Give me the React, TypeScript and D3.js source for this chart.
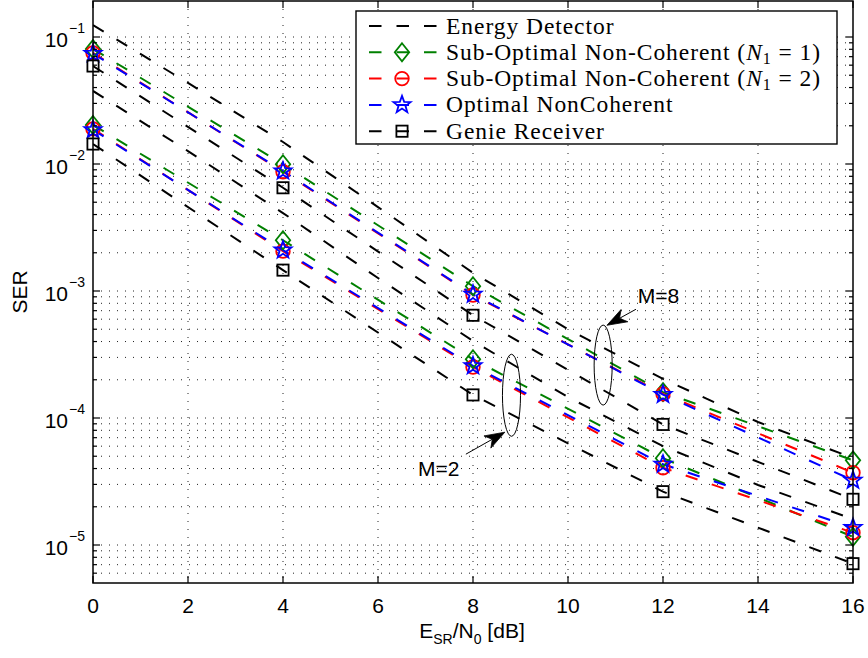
import React from 'react';
import * as d3 from 'd3';

// ---------- data ----------
const snrMarkers = [0, 4, 8, 12, 16];
const snrEnergy = [0, 2, 4, 6, 8, 10, 12, 14, 16];

const energyM8 = [0.124, 0.0435, 0.0149, 0.00458, 0.00139, 5.0e-4, 2.03e-4, 9.3e-5, 4.84e-5];
const energyM2 = [0.0376, 0.01265, 0.00411, 0.001265, 4.04e-4, 1.46e-4, 6.0e-5, 2.97e-5, 1.6e-5];

const subOpt1M8 = [0.0805, 0.00995, 0.00109, 1.6e-4, 4.64e-5];
const subOpt2M8 = [0.075, 0.0087, 9.3e-4, 1.55e-4, 3.71e-5];
const optimalM8 = [0.074, 0.0088, 9.4e-4, 1.53e-4, 3.23e-5];
const genieM8 = [0.0591, 0.0065, 6.44e-4, 8.9e-5, 2.29e-5];

const subOpt1M2 = [0.0203, 0.00251, 2.9e-4, 4.82e-5, 1.16e-5];
const subOpt2M2 = [0.0189, 0.00206, 2.52e-4, 4.06e-5, 1.25e-5];
const optimalM2 = [0.0186, 0.0021, 2.57e-4, 4.32e-5, 1.37e-5];
const genieM2 = [0.01436, 0.00146, 1.52e-4, 2.63e-5, 7.13e-6];

const xTicks = [0, 2, 4, 6, 8, 10, 12, 14, 16];
const yTickExps = [-1, -2, -3, -4, -5];

const legendLabels = [
  'Energy Detector',
  'Sub-Optimal Non-Coherent',
  'Sub-Optimal Non-Coherent',
  'Optimal NonCoherent',
  'Genie Receiver',
];
const legendN1 = [null, '1', '2', null, null];

// annotations in data units: [dB, SER]
const annLabels = ['M=8', 'M=2'];
const annText = [[11.47, 8.0e-4], [6.84, 3.48e-5]];
const annTail = [[11.43, 7.18e-4], [7.85, 5.19e-5]];
const annTip = [[10.82, 5.37e-4], [8.67, 7.73e-5]];
const annEllipseCenter = [[10.74, 2.61e-4], [8.81, 1.51e-4]];
const annEllipseR = [[0.19, 0.315], [0.19, 0.323]]; // [dB, decades]

// ---------- layout ----------
const W = 868;
const H = 658;
const left = 93;
const right = 853;
const top = 1;
const bottom = 583;

const x = d3.scaleLinear().domain([0, 16]).range([left, right]);
const y = d3.scaleLog().domain([1e-5, 1e-1]).range([545, 37]);

const GREEN = '#008000';
const RED = '#ff0000';
const BLUE = '#0000ff';
const BLACK = '#000000';
const DASH = '12.5,15';

type Marker = 'none' | 'diamond' | 'circle' | 'star' | 'square';

const series: { xs: number[]; ys: number[]; color: string; marker: Marker }[] = [
  { xs: snrEnergy, ys: energyM8, color: BLACK, marker: 'none' },
  { xs: snrEnergy, ys: energyM2, color: BLACK, marker: 'none' },
  { xs: snrMarkers, ys: subOpt1M8, color: GREEN, marker: 'diamond' },
  { xs: snrMarkers, ys: subOpt1M2, color: GREEN, marker: 'diamond' },
  { xs: snrMarkers, ys: subOpt2M8, color: RED, marker: 'circle' },
  { xs: snrMarkers, ys: subOpt2M2, color: RED, marker: 'circle' },
  { xs: snrMarkers, ys: optimalM8, color: BLUE, marker: 'star' },
  { xs: snrMarkers, ys: optimalM2, color: BLUE, marker: 'star' },
  { xs: snrMarkers, ys: genieM8, color: BLACK, marker: 'square' },
  { xs: snrMarkers, ys: genieM2, color: BLACK, marker: 'square' },
];

const legendStyles: { color: string; marker: Marker }[] = [
  { color: BLACK, marker: 'none' },
  { color: GREEN, marker: 'diamond' },
  { color: RED, marker: 'circle' },
  { color: BLUE, marker: 'star' },
  { color: BLACK, marker: 'square' },
];

function starPath(cx: number, cy: number, R: number, r: number) {
  const pts: string[] = [];
  for (let i = 0; i < 10; i++) {
    const a = -Math.PI / 2 + (i * Math.PI) / 5;
    const rad = i % 2 === 0 ? R : r;
    pts.push(`${cx + rad * Math.cos(a)},${cy + rad * Math.sin(a)}`);
  }
  return 'M' + pts.join('L') + 'Z';
}

function MarkerShape({ kind, cx, cy, color }: { kind: Marker; cx: number; cy: number; color: string }) {
  const sw = 1.8;
  if (kind === 'diamond') {
    return (
      <path
        d={`M${cx},${cy - 9}L${cx + 7.2},${cy}L${cx},${cy + 9}L${cx - 7.2},${cy}Z`}
        fill="none"
        stroke={color}
        strokeWidth={sw}
      />
    );
  }
  if (kind === 'circle') {
    return <circle cx={cx} cy={cy} r={6.8} fill="none" stroke={color} strokeWidth={sw} />;
  }
  if (kind === 'star') {
    return <path d={starPath(cx, cy, 9, 3.7)} fill="none" stroke={color} strokeWidth={sw} />;
  }
  if (kind === 'square') {
    return <rect x={cx - 5.6} y={cy - 5.6} width={11.2} height={11.2} fill="none" stroke={color} strokeWidth={sw} />;
  }
  return null;
}

export default function App() {
  const line = d3
    .line<[number, number]>()
    .x((d) => x(d[0]))
    .y((d) => y(d[1]));

  // grid values
  const hGrid: { v: number; major: boolean }[] = [];
  for (let k = -6; k <= 0; k++) {
    for (let m = 1; m <= 9; m++) {
      const v = m * Math.pow(10, k);
      const py = y(v);
      if (py > top + 0.5 && py < bottom - 0.5) hGrid.push({ v, major: m === 1 });
    }
  }

  const tickFont = "'Liberation Sans', Arial, Helvetica, sans-serif";
  const serifFont = "'Liberation Serif', 'Times New Roman', serif";

  const legX = 356;
  const legY = 11;
  const legW = 481;
  const legH = 133;
  const rowY = (i: number) => 26 + i * 26.3;

  return (
    <svg width={W} height={H} style={{ position: 'absolute', left: 0, top: 0, background: '#fff' }}>
      <rect x={0} y={0} width={W} height={H} fill="#fff" />
      <defs>
        <clipPath id="plotClip">
          <rect x={left} y={top} width={right - left} height={bottom - top} />
        </clipPath>
      </defs>

      {/* grid */}
      <g stroke="#222" strokeWidth={1} strokeDasharray="1,7" fill="none">
        {hGrid.map((g, i) => (
          <line key={'h' + i} x1={left} x2={right} y1={y(g.v)} y2={y(g.v)} />
        ))}
        {xTicks
          .filter((t) => t > 0 && t < 16)
          .map((t) => (
            <line key={'v' + t} x1={x(t)} x2={x(t)} y1={top} y2={bottom} />
          ))}
      </g>

      {/* lines */}
      <g clipPath="url(#plotClip)">
        {series.map((s, i) => (
          <path
            key={'l' + i}
            d={line(s.xs.map((v, j) => [v, s.ys[j]] as [number, number])) || ''}
            fill="none"
            stroke={s.color}
            strokeWidth={2}
            strokeDasharray={DASH}
          />
        ))}
      </g>

      {/* markers */}
      {series.map((s, i) =>
        s.marker === 'none'
          ? null
          : s.xs.map((v, j) => (
              <MarkerShape key={`m${i}-${j}`} kind={s.marker} cx={x(v)} cy={y(s.ys[j])} color={s.color} />
            ))
      )}

      {/* axes box */}
      <rect x={left} y={top} width={right - left} height={bottom - top} fill="none" stroke="#000" strokeWidth={1.5} />

      {/* ticks */}
      <g stroke="#000" strokeWidth={1.2}>
        {hGrid.map((g, i) => {
          const py = y(g.v);
          const len = g.major ? 7 : 4;
          return (
            <g key={'yt' + i}>
              <line x1={left} x2={left + len} y1={py} y2={py} />
              <line x1={right} x2={right - len} y1={py} y2={py} />
            </g>
          );
        })}
        {xTicks.map((t) => (
          <g key={'xt' + t}>
            <line x1={x(t)} x2={x(t)} y1={bottom} y2={bottom - 7} />
            <line x1={x(t)} x2={x(t)} y1={top} y2={top + 7} />
          </g>
        ))}
      </g>

      {/* x tick labels */}
      <g fontFamily={tickFont} fontSize={21} fill="#000" textAnchor="middle">
        {xTicks.map((t) => (
          <text key={'xl' + t} x={x(t)} y={613}>
            {t}
          </text>
        ))}
      </g>

      {/* y tick labels */}
      <g fontFamily={tickFont} fill="#000">
        {yTickExps.map((e) => {
          const py = y(Math.pow(10, e));
          return (
            <g key={'yl' + e}>
              <text x={68} y={py + 9.5} fontSize={21} textAnchor="end">
                10
              </text>
              <text x={69} y={py - 4} fontSize={14} textAnchor="start">
                {'\u2212' + Math.abs(e)}
              </text>
            </g>
          );
        })}
      </g>

      {/* axis labels */}
      <text
        fontFamily={tickFont}
        fontSize={21}
        textAnchor="middle"
        transform={`translate(27,${(top + bottom) / 2}) rotate(-90)`}
      >
        SER
      </text>
      <text fontFamily={tickFont} fontSize={21} textAnchor="middle" x={472} y={638}>
        <tspan>E</tspan>
        <tspan fontSize={14} dy={6}>
          SR
        </tspan>
        <tspan dy={-6}>/N</tspan>
        <tspan fontSize={14} dy={6}>
          0
        </tspan>
        <tspan dy={-6}> [dB]</tspan>
      </text>

      {/* annotations */}
      <g>
        {annLabels.map((lab, i) => {
          const tx = x(annText[i][0]);
          const ty = y(annText[i][1]);
          const t0x = x(annTail[i][0]);
          const t0y = y(annTail[i][1]);
          const px = x(annTip[i][0]);
          const py = y(annTip[i][1]);
          const dx = px - t0x;
          const dy = py - t0y;
          const len = Math.hypot(dx, dy);
          const ux = dx / len;
          const uy = dy / len;
          const nx = -uy;
          const ny = ux;
          const L = 20;
          const w = 7;
          const notch = 0.72 * L;
          const head = `M${px},${py}L${px - L * ux + w * nx},${py - L * uy + w * ny}L${px - notch * ux},${
            py - notch * uy
          }L${px - L * ux - w * nx},${py - L * uy - w * ny}Z`;
          const ecx = x(annEllipseCenter[i][0]);
          const ecy = y(annEllipseCenter[i][1]);
          const erx = x(annEllipseCenter[i][0] + annEllipseR[i][0]) - ecx;
          const ery = y(annEllipseCenter[i][1] * Math.pow(10, -annEllipseR[i][1])) - ecy;
          return (
            <g key={'ann' + i}>
              <ellipse cx={ecx} cy={ecy} rx={erx} ry={ery} fill="none" stroke="#000" strokeWidth={1} />
              <line x1={t0x} y1={t0y} x2={px - notch * ux} y2={py - notch * uy} stroke="#000" strokeWidth={1} />
              <path d={head} fill="#000" stroke="#000" strokeWidth={0.8} />
              <text x={tx} y={ty} fontFamily={tickFont} fontSize={21} fill="#000">
                {lab}
              </text>
            </g>
          );
        })}
      </g>

      {/* legend */}
      <g>
        <rect x={legX} y={legY} width={legW} height={legH} fill="#fff" stroke="#000" strokeWidth={1.4} />
        {legendLabels.map((lab, i) => {
          const ry = rowY(i);
          const st = legendStyles[i];
          return (
            <g key={'lg' + i}>
              <line x1={369} x2={437} y1={ry} y2={ry} stroke={st.color} strokeWidth={2} strokeDasharray={DASH} />
              <MarkerShape kind={st.marker} cx={402} cy={ry} color={st.color} />
              <text x={446} y={ry + 7.5} fontFamily={serifFont} fontSize={23.5} letterSpacing={0.95} fill="#000">
                {lab}
                {legendN1[i] ? (
                  <>
                    <tspan> (</tspan>
                    <tspan fontStyle="italic">N</tspan>
                    <tspan fontSize={16} dy={4}>
                      1
                    </tspan>
                    <tspan dy={-4}>{' = ' + legendN1[i] + ')'}</tspan>
                  </>
                ) : null}
              </text>
            </g>
          );
        })}
      </g>
    </svg>
  );
}
